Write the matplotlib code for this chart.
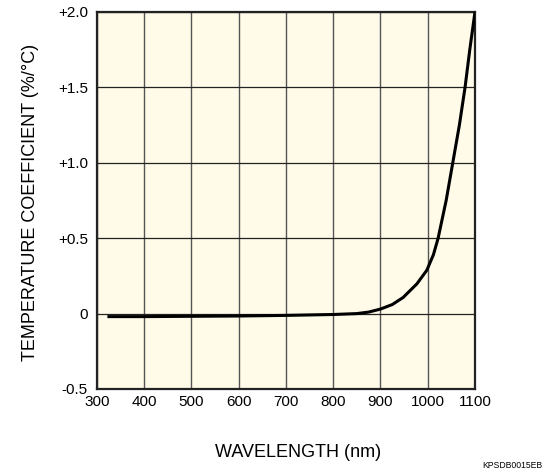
import matplotlib
matplotlib.use('Agg')
import matplotlib.pyplot as plt

# data
wavelength = [322, 400, 500, 600, 700, 800, 850, 875, 900, 925, 948, 977,
              998, 1012, 1022, 1039, 1053, 1067, 1079, 1089, 1100]
temp_coef = [-0.02, -0.02, -0.018, -0.016, -0.012, -0.006, 0.0, 0.01, 0.03,
             0.06, 0.107, 0.197, 0.287, 0.39, 0.5, 0.75, 1.0, 1.25, 1.5,
             1.75, 2.0]

x_ticks = [300, 400, 500, 600, 700, 800, 900, 1000, 1100]
y_ticks = [-0.5, 0, 0.5, 1.0, 1.5, 2.0]
y_tick_labels = ['-0.5', '0', '+0.5', '+1.0', '+1.5', '+2.0']

plt.rcParams['font.family'] = ['Liberation Sans', 'DejaVu Sans']

fig = plt.figure(figsize=(5.53, 4.76), dpi=100)
axs = fig.add_axes([0.1754, 0.1828, 0.6835, 0.7920])
axs.set_facecolor('#fffbe8')

axs.plot(wavelength, temp_coef, color='black', lw=2.2, solid_capstyle='butt',
         zorder=3)

axs.set_xlim(300, 1100)
axs.set_ylim(-0.5, 2.0)
axs.set_xticks(x_ticks)
axs.set_yticks(y_ticks)
axs.set_yticklabels(y_tick_labels)
axs.tick_params(axis='both', length=0, labelsize=11)
axs.tick_params(axis='x', pad=4.5)
axs.tick_params(axis='y', pad=6.5)
axs.xaxis.grid(True, color='#555555', lw=1.0)
axs.yaxis.grid(True, color='#222222', lw=0.9)

for sp in axs.spines.values():
    sp.set_linewidth(1.6)
    sp.set_color('#222222')

fig.text(0.539, 0.05, 'WAVELENGTH (nm)', ha='center', va='center', fontsize=13)
fig.text(0.055, 0.575, 'TEMPERATURE COEFFICIENT (%/°C)', ha='center', va='center',
         rotation=90, fontsize=13)
fig.text(0.98, 0.023, 'KPSDB0015EB', ha='right', va='center', fontsize=6.2)

fig.savefig('out.png', dpi=100)
plt.close(fig)
